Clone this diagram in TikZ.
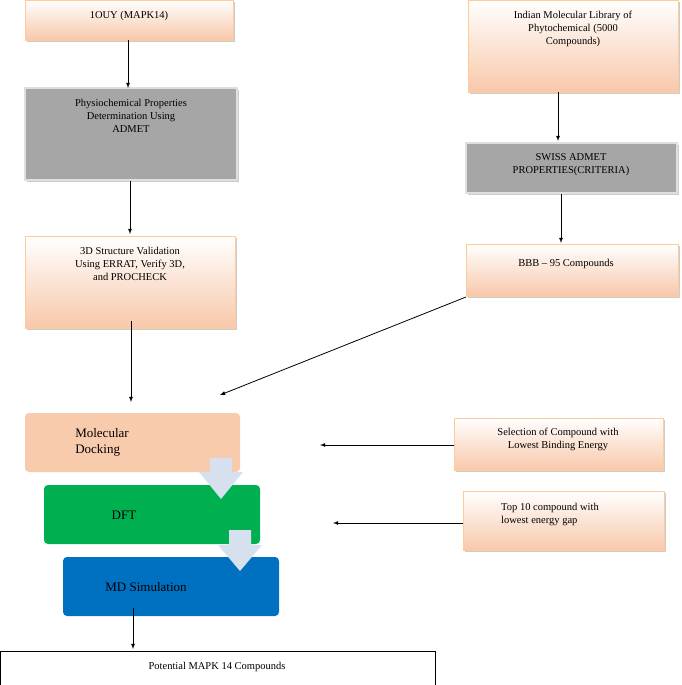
\documentclass[tikz,border=0pt]{standalone}
\usepackage{fontspec}
\setmainfont{Liberation Serif}
\begin{document}
\begin{tikzpicture}[x=1pt,y=-1pt,
 peachbox/.style={draw=orange!40!white, top color=white, bottom color={rgb,255:red,248;green,200;blue,170}, drop shadow/.style={}},
 graybox/.style={draw=gray!25, line width=2pt, fill={rgb,255:red,166;green,166;blue,166}},
 txt/.style={align=center, font=\fontsize{10.5}{13}\selectfont, anchor=north},
 arr/.style={-latex, thick}]
\useasboundingbox (0,0) rectangle (682,685);
\definecolor{peach}{RGB}{248,203,173}
\definecolor{grn}{RGB}{0,176,80}
\definecolor{blu}{RGB}{0,112,192}
\definecolor{lb}{RGB}{214,224,238}
% left column
\fill[gray!40] (27,2) rectangle (235,42);
\draw[peachbox] (25,0) rectangle (233,40);
\node[txt] (a) at (129,8) {1OUY (MAPK14)};
\fill[gray!40] (27,90) rectangle (239,182);
\draw[graybox] (25,88) rectangle (237,180);
\node[txt] (b) at (131,96) {Physiochemical Properties\\Determination Using\\ADMET};
\fill[gray!40] (27,238) rectangle (237,330);
\draw[peachbox] (25,236) rectangle (235,328);
\node[txt] (c) at (130,244) {3D Structure Validation\\Using ERRAT, Verify 3D,\\and PROCHECK};
% right column
\fill[gray!40] (470,2) rectangle (680,94);
\draw[peachbox] (468,0) rectangle (678,92);
\node[txt] (d) at (573,8) {Indian Molecular Library of\\Phytochemical (5000\\Compounds)};
\fill[gray!40] (468,145) rectangle (679,195);
\draw[graybox] (466,143) rectangle (677,193);
\node[txt] (e) at (571,150) {SWISS ADMET\\PROPERTIES(CRITERIA)};
\fill[gray!40] (468,246) rectangle (680,298);
\draw[peachbox] (466,244) rectangle (678,296);
\node[txt] (f) at (566,256) {BBB -- 95 Compounds};
% process
\fill[peach, rounded corners=4pt] (25,413) rectangle (240,472);
\node[align=left, font=\fontsize{13}{16}\selectfont] (g) at (102,442) {Molecular\\Docking};
\fill[grn, rounded corners=4pt] (44,485) rectangle (260,544);
\node[font=\fontsize{13}{16}\selectfont] (h) at (124,515) {DFT};
\fill[blu, rounded corners=4pt] (63,557) rectangle (279,616);
\node[font=\fontsize{13}{16}\selectfont] (i) at (146,587) {MD Simulation};
\fill[lb] (210,458) -- (232,458) -- (232,472) -- (243,472) -- (221,499) -- (199,472) -- (210,472) -- cycle;
\fill[lb] (229,530) -- (251,530) -- (251,545) -- (262,545) -- (240,571) -- (218,545) -- (229,545) -- cycle;
\draw (0,651) rectangle (435,685);
\node[font=\fontsize{10.5}{13}\selectfont] (j) at (217,667) {Potential MAPK 14 Compounds};
% side boxes
\fill[gray!40] (456,420) rectangle (665,472);
\draw[peachbox] (454,418) rectangle (663,470);
\node[txt] (k) at (558,425) {Selection of Compound with\\Lowest Binding Energy};
\fill[gray!40] (465,493) rectangle (666,552);
\draw[peachbox] (463,491) rectangle (664,550);
\node[txt,align=left] (l) at (550,500) {Top 10 compound with\\lowest energy gap};
% coordinates
\coordinate (a1) at (128,40); \coordinate (b0) at (128,88);
\coordinate (b1) at (130,181); \coordinate (c0) at (130,234);
\coordinate (c1) at (131,321); \coordinate (g0) at (131,402);
\coordinate (d1) at (558,92); \coordinate (e0) at (558,141);
\coordinate (e1) at (561,194); \coordinate (f0) at (561,243);
\coordinate (f1) at (466,297); \coordinate (gx) at (220,395);
\coordinate (k1) at (454,445); \coordinate (gk) at (320,445);
\coordinate (l1) at (463,523); \coordinate (hl) at (333,523);
\coordinate (i1) at (133,608); \coordinate (j0) at (133,649);
\draw[arr] (a1) -- (b0);
\draw[arr] (b1) -- (c0);
\draw[arr] (c1) -- (g0);
\draw[arr] (d1) -- (e0);
\draw[arr] (e1) -- (f0);
\draw[arr] (f1) -- (gx);
\draw[arr] (k1) -- (gk);
\draw[arr] (l1) -- (hl);
\draw[arr] (i1) -- (j0);
\end{tikzpicture}
\end{document}
